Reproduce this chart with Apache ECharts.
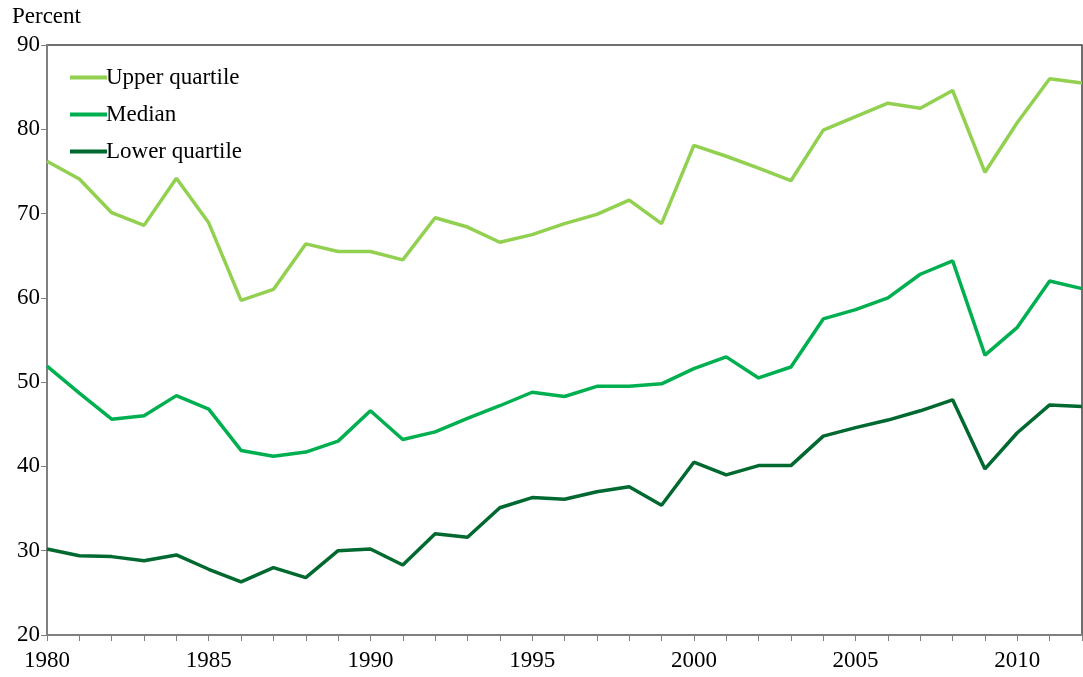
<!DOCTYPE html>
<html>
<head>
<meta charset="utf-8">
<script src="https://cdn.jsdelivr.net/npm/echarts@6/dist/echarts.min.js"></script>
<style>
  html, body { margin: 0; padding: 0; background: #fff; }
  #chart { width: 1083px; height: 677px; }
</style>
</head>
<body>
<div id="chart"></div>
<script>
// years on the x axis
var years = [];
for (var y = 1980; y <= 2012; y++) years.push(String(y));

// values (percent)
var upperQuartile = [76.2, 74.1, 70.1, 68.6, 74.2, 68.9, 59.7, 61.0, 66.4, 65.5, 65.5, 64.5, 69.5, 68.4, 66.6, 67.5, 68.8,
  69.9, 71.6, 68.8, 78.1, 76.8, 75.4, 73.9, 79.9, 81.5, 83.1, 82.5, 84.6, 74.9, 80.8, 86.0, 85.5];
var median = [51.9, 48.7, 45.6, 46.0, 48.4, 46.8, 41.9, 41.2, 41.7, 43.0, 46.6, 43.2, 44.1, 45.7, 47.2, 48.8, 48.3,
  49.5, 49.5, 49.8, 51.6, 53.0, 50.5, 51.8, 57.5, 58.6, 60.0, 62.8, 64.4, 53.2, 56.5, 62.0, 61.1];
var lowerQuartile = [30.2, 29.4, 29.3, 28.8, 29.5, 27.8, 26.3, 28.0, 26.8, 30.0, 30.2, 28.3, 32.0, 31.6, 35.1, 36.3, 36.1,
  37.0, 37.6, 35.4, 40.5, 39.0, 40.1, 40.1, 43.6, 44.6, 45.5, 46.6, 47.9, 39.7, 44.0, 47.3, 47.1];

var font = 'Liberation Serif';
var chart = echarts.init(document.getElementById('chart'));

var lineSeries = function (name, data, color) {
  return {
    name: name,
    type: 'line',
    data: data,
    symbol: 'none',
    lineStyle: { width: 3.5, color: color },
    itemStyle: { color: color },
    animation: false
  };
};

chart.setOption({
  textStyle: { fontFamily: font },
  title: {
    text: 'Percent',
    left: 7,
    top: 0,
    textStyle: { fontFamily: font, fontSize: 23, fontWeight: 'normal', color: '#000' }
  },
  grid: {
    left: 47, right: 1, top: 45, bottom: 42,
    show: true,
    borderColor: '#404040',
    borderWidth: 1.5
  },
  legend: {
    orient: 'vertical',
    left: 65,
    top: 61,
    icon: 'rect',
    itemWidth: 37,
    itemHeight: 4,
    itemGap: 14,
    textStyle: { fontFamily: font, fontSize: 23, color: '#000', padding: [0, 0, 0, -6] },
    data: ['Upper quartile', 'Median', 'Lower quartile']
  },
  xAxis: {
    type: 'category',
    data: years,
    boundaryGap: false,
    axisLine: { lineStyle: { color: '#808080', width: 2 } },
    axisTick: { interval: 0, length: 6, lineStyle: { color: '#808080' } },
    axisLabel: { interval: 4, fontSize: 23, color: '#000', margin: 14, fontFamily: font },
    splitLine: { show: false }
  },
  yAxis: {
    type: 'value',
    min: 20,
    max: 90,
    interval: 10,
    axisLine: { show: true, lineStyle: { color: '#808080', width: 2 } },
    axisTick: { show: true, length: 6, lineStyle: { color: '#808080' } },
    axisLabel: { fontSize: 23, color: '#000', margin: 7, fontFamily: font },
    splitLine: { show: false }
  },
  series: [
    lineSeries('Upper quartile', upperQuartile, '#92d050'),
    lineSeries('Median', median, '#00b050'),
    lineSeries('Lower quartile', lowerQuartile, '#00692f')
  ]
});
</script>
</body>
</html>
